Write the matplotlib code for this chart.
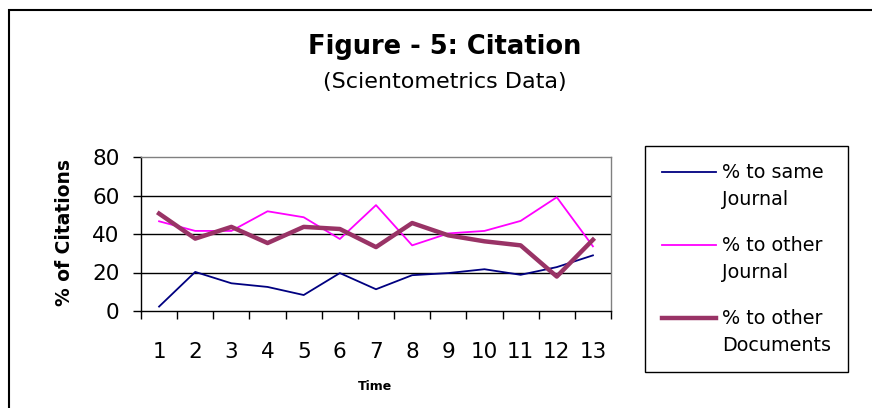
import numpy as np
import matplotlib.pyplot as plt
from matplotlib.patches import Rectangle

# data
time = list(range(1, 14))
same_journal = [2.3, 20.3, 14.4, 12.5, 8.3, 19.7, 11.3, 18.6, 19.7, 21.7, 18.8, 22.8, 28.9]
other_journal = [46.6, 41.6, 41.6, 51.8, 48.7, 37.4, 55.0, 34.1, 40.3, 41.6, 46.8, 59.1, 33.6]
other_docs = [50.6, 37.6, 43.7, 35.3, 43.7, 42.6, 33.2, 45.7, 39.3, 36.2, 34.1, 17.9, 37.0]
labels = ["% to same\nJournal", "% to other\nJournal", "% to other\nDocuments"]

W, H = 872, 408
fig = plt.figure(figsize=(W / 100, H / 100), dpi=100)

# chart area border (runs off the right and bottom edges)
fig.patches.append(Rectangle((9 / W, -0.1), 1.0, 1 - 10 / H + 0.1,
                             transform=fig.transFigure, fill=False,
                             edgecolor="black", linewidth=1.5))

ax = fig.add_axes([141 / W, 1 - 311 / H, 470 / W, 154 / H])

l1, = ax.plot(time, same_journal, color="#000080", lw=1.3)
l2, = ax.plot(time, other_journal, color="#FF00FF", lw=1.3)
l3, = ax.plot(time, other_docs, color="#993366", lw=3.2)

ax.set_xlim(0.5, 13.5)
ax.set_ylim(0, 80)
ax.set_yticks([0, 20, 40, 60, 80])
ax.set_xticks(time)
ax.set_xticks(np.arange(0.5, 14, 1), minor=True)
ax.tick_params(axis="x", which="major", length=0, pad=22, labelsize=15.5)
ax.tick_params(axis="x", which="minor", length=6, width=1, direction="out")
ax.tick_params(axis="y", length=6, width=1, pad=9.5, labelsize=15.5)

for y in [20, 40, 60]:
    ax.axhline(y, color="black", lw=1, zorder=0)

ax.spines["left"].set_color("black")
ax.spines["bottom"].set_color("black")
ax.spines["top"].set_color("#808080")
ax.spines["right"].set_color("#808080")
for s in ax.spines.values():
    s.set_linewidth(1)

fig.text(445 / W, 1 - 47 / H, "Figure - 5: Citation", ha="center", va="center",
         fontsize=18.5, fontweight="bold")
fig.text(445 / W, 1 - 82 / H, "(Scientometrics Data)", ha="center", va="center",
         fontsize=16)
fig.text(65 / W, 1 - 233 / H, "% of Citations", ha="center", va="center",
         rotation=90, fontsize=13.5, fontweight="bold")
fig.text(375 / W, 1 - 386 / H, "Time", ha="center", va="center",
         fontsize=9, fontweight="bold")

leg = fig.legend([l1, l2, l3], labels, loc="upper left",
                 bbox_to_anchor=(645 / W, 1 - 146 / H), fontsize=13.8,
                 frameon=True, fancybox=False, edgecolor="black", framealpha=1,
                 handlelength=2.8, handletextpad=0.3, labelspacing=1.43,
                 borderpad=0.9, borderaxespad=0)
leg.get_frame().set_linewidth(1)
for t in leg.get_texts():
    t.set_linespacing(1.5)
# put each handle level with the first line of its label
for h in leg.legend_handles:
    h.set_ydata(np.asarray(h.get_ydata()) + 10.5)

fig.savefig("out.png", dpi=100)
